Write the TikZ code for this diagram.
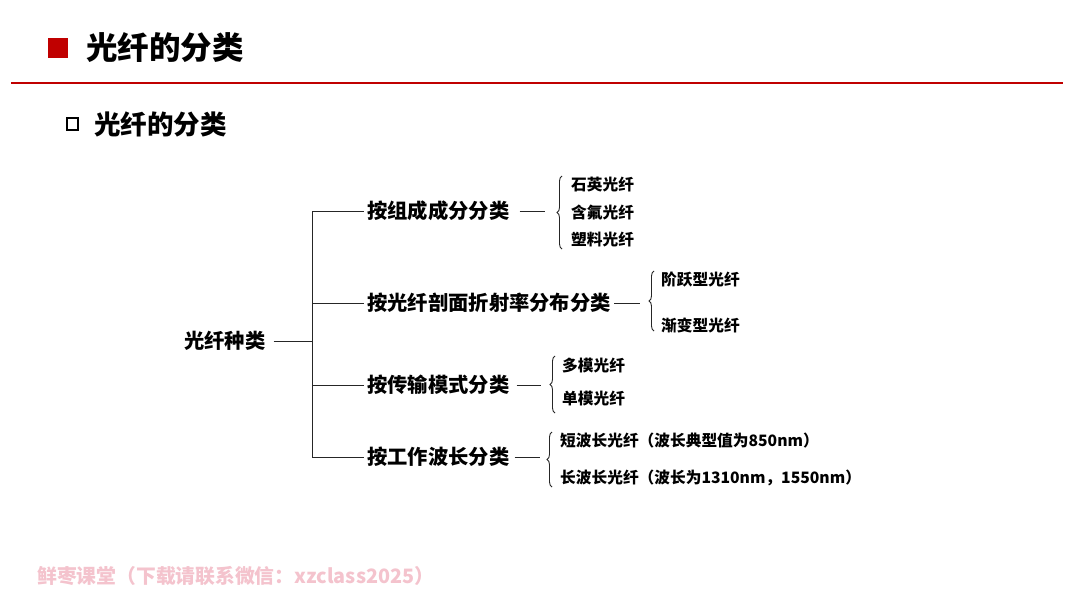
\documentclass[tikz,border=0pt]{standalone}
\usepackage{fontspec}
\setmainfont{Noto Sans CJK SC}
\usetikzlibrary{positioning, calc, decorations.pathreplacing}
\definecolor{titlered}{HTML}{C00000}
\definecolor{treegrey}{HTML}{262626}
\definecolor{markpink}{HTML}{F4C3CD}
\tikzset{
  titletext/.style={anchor=west, inner sep=0pt, font=\fontsize{31.5pt}{36pt}\selectfont\bfseries},
  subtext/.style={anchor=west, inner sep=0pt, font=\fontsize{26.5pt}{30pt}\selectfont\bfseries},
  rootnode/.style={anchor=west, inner sep=2pt, font=\fontsize{20.3pt}{24pt}\selectfont\bfseries},
  groupnode/.style={anchor=west, inner sep=2pt, font=\fontsize{20.3pt}{24pt}\selectfont\bfseries},
  leafnode/.style={anchor=west, inner sep=1pt, font=\fontsize{15.7pt}{18pt}\selectfont\bfseries},
  tree/.style={draw=treegrey, line width=1pt},
  fbrace/.style={draw=treegrey, line width=0.9pt,
                 decorate, decoration={brace, amplitude=5pt}},
}

\begin{document}
\begin{tikzpicture}[x=1pt, y=-1pt]
  \useasboundingbox[fill=white] (0,0) rectangle (1080,608);

  % --- slide header ---
  \fill[titlered] (48,38) rectangle (68,58);
  \node[titletext] (title) at (86,48) {光纤的分类};
  \draw[titlered, line width=1.8pt] (11,83) -- (1063,83);

  \draw[line width=1.8pt] (67,118) rectangle (78,130);
  \node[subtext] (subtitle) at (94,124) {光纤的分类};

  % --- root and groups ---
  \node[rootnode] (root) at (182,341) {光纤种类};
  \node[groupnode] (g1) at (365,211) {按组成成分分类};
  \node[groupnode] (g2) at (365,303) {按光纤剖面折射率分布分类};
  \node[groupnode] (g3) at (365,385) {按传输模式分类};
  \node[groupnode] (g4) at (365,457) {按工作波长分类};

  % --- trunk ---
  \coordinate (trunk) at (312,341);
  \draw[tree] ([xshift=6pt]root.east) -- (trunk);
  \draw[tree] (trunk |- g1.west) -- (trunk |- g4.west);
  \foreach \g in {g1,g2,g3,g4}
    \draw[tree] (trunk |- \g.west) -- ([xshift=-1pt]\g.west);

  % --- leaves ---
  \node[leafnode] (quartz) at (570,185) {石英光纤};
  \node[leafnode] (fluor) at (570,212) {含氟光纤};
  \node[leafnode] (plastic) at (570,240) {塑料光纤};

  \node[leafnode] (stepidx) at (660,280) {阶跃型光纤};
  \node[leafnode] (graded) at (660,325) {渐变型光纤};

  \node[leafnode] (multi) at (561,366) {多模光纤};
  \node[leafnode] (single) at (561,399) {单模光纤};

  \node[leafnode] (short) at (559,441) {短波长光纤（波长典型值为850nm）};
  \node[leafnode] (long) at (559,478) {长波长光纤（波长为1310nm，1550nm）};

  % --- braces and short links ---
  \coordinate (b1top) at (562,176);
  \coordinate (b1bot) at (562,249);
  \draw[fbrace] (b1bot) -- (b1top);
  \draw[tree] ([xshift=8pt]g1.east) -- ([xshift=-17pt]b1top |- g1.east);

  \coordinate (b2top) at (654,271);
  \coordinate (b2bot) at (654,331);
  \draw[fbrace] (b2bot) -- (b2top);
  \draw[tree] ([xshift=1pt]g2.east) -- ([xshift=-14pt]b2top |- g2.east);

  \coordinate (b3top) at (555,356);
  \coordinate (b3bot) at (555,413);
  \draw[fbrace] (b3bot) -- (b3top);
  \draw[tree] ([xshift=5pt]g3.east) -- ([xshift=-14pt]b3top |- g3.east);

  \coordinate (b4top) at (552,432);
  \coordinate (b4bot) at (552,487);
  \draw[fbrace] (b4bot) -- (b4top);
  \draw[tree] ([xshift=3pt]g4.east) -- ([xshift=-12pt]b4top |- g4.east);

  % --- watermark ---
  \node[anchor=west, inner sep=0pt, text=markpink,
        font=\fontsize{19.8pt}{23pt}\selectfont\bfseries] (mark) at (37,576)
        {鲜枣课堂（下载请联系微信：xzclass2025）};

\end{tikzpicture}
\end{document}
